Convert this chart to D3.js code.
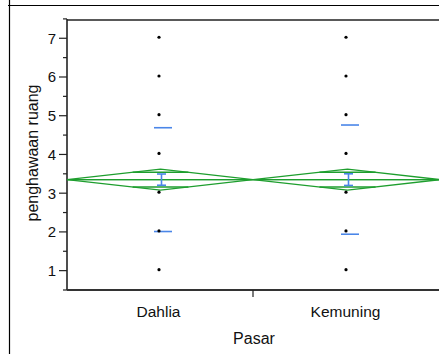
<!DOCTYPE html>
<html><head><meta charset="utf-8">
<script src="https://cdn.jsdelivr.net/npm/d3@7"></script>
<style>html,body{margin:0;padding:0;background:#fff;overflow:hidden}</style>
</head><body>
<script>
// ---- data ----
const categories = ["Dahlia", "Kemuning"];
const responses = [1, 2, 3, 4, 5, 6, 7];            // observed response levels (same for both groups)
const groupMeans = [3.35, 3.35];
const grandMean = 3.35;
const stdDevs = [1.34, 1.41];
const stdErrors = [0.145, 0.15];
const ciHalf = [0.27, 0.27];                        // 95% CI half-width (mean diamonds)
const yTicks = [1, 2, 3, 4, 5, 6, 7];
const yMinorTicks = [0.5, 1.5, 2.5, 3.5, 4.5, 5.5, 6.5, 7.5];
const yTitle = "penghawaan ruang";
const xTitle = "Pasar";

const W = 439, H = 354;
const svg = d3.select("body").append("svg").attr("width", W).attr("height", H);
const font = "'Liberation Sans', Arial, sans-serif";

// document frame
svg.append("line").attr("x1", 8).attr("x2", W).attr("y1", 5.5).attr("y2", 5.5).attr("stroke", "#000").attr("stroke-width", 1.2);
svg.append("line").attr("x1", 9.5).attr("x2", 9.5).attr("y1", 0).attr("y2", H).attr("stroke", "#000").attr("stroke-width", 1.2);

const y = d3.scaleLinear().domain([0.5, 7.5]).range([290, 18.9]);
const x = d3.scaleBand().domain(categories).range([66, 440]).padding(0);
const cx = c => x(c) + x.bandwidth() / 2;
const plotL = 67, plotR = W, plotT = 20, plotB = 290;

// frame
svg.append("line").attr("x1", plotL).attr("x2", plotR).attr("y1", plotT).attr("y2", plotT).attr("stroke", "#222").attr("stroke-width", 1.6);
svg.append("line").attr("x1", plotL).attr("x2", plotL).attr("y1", y(7.5)).attr("y2", plotB).attr("stroke", "#222").attr("stroke-width", 1.6);
svg.append("line").attr("x1", plotL).attr("x2", plotR).attr("y1", plotB).attr("y2", plotB).attr("stroke", "#333").attr("stroke-width", 1.8);

// y axis ticks
const gy = svg.append("g");
gy.selectAll(".maj").data(yTicks).join("line").attr("x1", 59).attr("x2", plotL).attr("y1", d => y(d)).attr("y2", d => y(d)).attr("stroke", "#222").attr("stroke-width", 1.2);
gy.selectAll(".min").data(yMinorTicks).join("line").attr("x1", 63).attr("x2", plotL).attr("y1", d => y(d)).attr("y2", d => y(d)).attr("stroke", "#222").attr("stroke-width", 1.2);
gy.selectAll("text").data(yTicks).join("text").attr("x", 56).attr("y", d => y(d)).attr("dy", "0.36em")
  .attr("text-anchor", "end").attr("font-family", font).attr("font-size", 15).attr("fill", "#111").text(d => d);

// x axis separator tick
const seps = categories.slice(1).map(c => x(c));
svg.selectAll(".sep").data(seps).join("line").attr("x1", d => d).attr("x2", d => d).attr("y1", plotB).attr("y2", plotB + 7).attr("stroke", "#222").attr("stroke-width", 1.2);
svg.selectAll(".xl").data(categories).join("text").attr("x", d => cx(d) - 1).attr("y", 317)
  .attr("text-anchor", "middle").attr("font-family", font).attr("font-size", 15.5).attr("fill", "#111").text(d => d);

// titles
svg.append("text").attr("x", 254).attr("y", 344).attr("text-anchor", "middle").attr("font-family", font).attr("font-size", 16).attr("fill", "#111").text(xTitle);
svg.append("text").attr("transform", "translate(37.5,153) rotate(-90)").attr("text-anchor", "middle").attr("font-family", font).attr("font-size", 16).attr("fill", "#111").text(yTitle);

const green = "#1e9e2e", blue = "#4a86e8";
// grand mean line
svg.append("line").attr("x1", plotL).attr("x2", plotR).attr("y1", y(grandMean)).attr("y2", y(grandMean)).attr("stroke", green).attr("stroke-width", 1.4);

// mean diamonds
categories.forEach((c, i) => {
  const L = Math.max(x(c), plotL), R = x(c) + x.bandwidth(), C = cx(c) + 1;
  const m = groupMeans[i], h = ciHalf[i];
  const pts = [[L, y(m)], [C, y(m + h)], [R, y(m)], [C, y(m - h)]];
  svg.append("path").attr("d", d3.line()(pts) + "Z").attr("fill", "none").attr("stroke", green).attr("stroke-width", 1.4);
  svg.append("line").attr("x1", L).attr("x2", R).attr("y1", y(m)).attr("y2", y(m)).attr("stroke", green).attr("stroke-width", 1.4);
  // overlap marks
  const o = h / Math.SQRT2, ow = (R - L) * 0.15;
  [m + o, m - o].forEach(v => {
    svg.append("line").attr("x1", C - ow).attr("x2", C + ow).attr("y1", y(v)).attr("y2", y(v)).attr("stroke", green).attr("stroke-width", 1.3);
  });
});

// std dev lines + std error bars
categories.forEach((c, i) => {
  const C = cx(c) + 3.5, m = groupMeans[i];
  [m + stdDevs[i], m - stdDevs[i]].forEach(v => {
    svg.append("line").attr("x1", C - 9).attr("x2", C + 9).attr("y1", y(v)).attr("y2", y(v)).attr("stroke", blue).attr("stroke-width", 1.6);
  });
  const t = y(m + stdErrors[i]), b = y(m - stdErrors[i]), ex = C - 1.5;
  svg.append("line").attr("x1", ex).attr("x2", ex).attr("y1", t).attr("y2", b).attr("stroke", blue).attr("stroke-width", 1.6);
  [t, b].forEach(v => svg.append("line").attr("x1", ex - 4.5).attr("x2", ex + 4.5).attr("y1", v).attr("y2", v).attr("stroke", blue).attr("stroke-width", 1.6));
});

// data points
categories.forEach(c => {
  svg.selectAll(null).data(responses).join("circle").attr("cx", cx(c) - 0.5).attr("cy", d => y(d) - 1).attr("r", 1.6).attr("fill", "#000");
});
</script>
</body></html>
